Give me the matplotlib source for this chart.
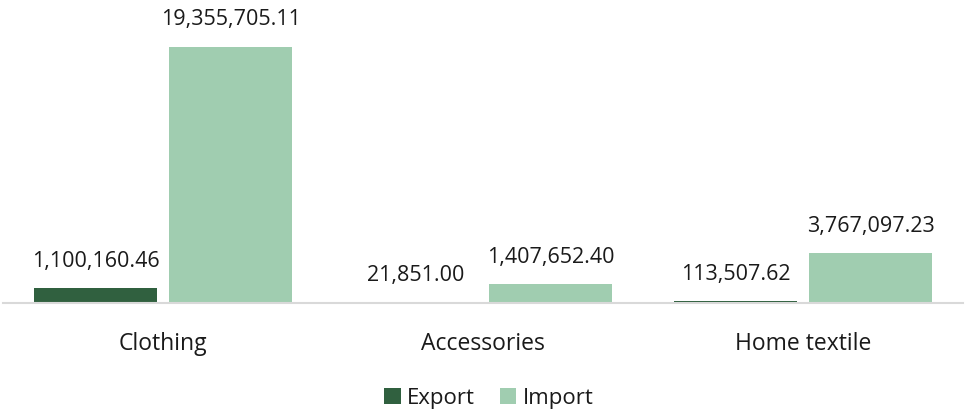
import numpy as np
import matplotlib.pyplot as plt

categories = ['Clothing', 'Accessories', 'Home textile']
export_vals = [1100160.46, 21851.00, 113507.62]
import_vals = [19355705.11, 1407652.40, 3767097.23]
series_names = ['Export', 'Import']

export_color = '#30603F'
import_color = '#A0CDB0'

plt.rcParams['font.family'] = ['Open Sans', 'DejaVu Sans']

fig = plt.figure(figsize=(9.65, 4.15), dpi=100)
ax = fig.add_axes([3 / 965, 1 - 303 / 415, 960 / 965, 291 / 415])

x = np.arange(len(categories))
w = 0.384
off = 0.211
b1 = ax.bar(x - off, export_vals, w, color=export_color, label=series_names[0])
b2 = ax.bar(x + off, import_vals, w, color=import_color, label=series_names[1])

for bars, vals in ((b1, export_vals), (b2, import_vals)):
    for rect, v in zip(bars, vals):
        ax.annotate(f'{v:,.2f}', (rect.get_x() + rect.get_width() / 2, rect.get_height()),
                    xytext=(0, 12), textcoords='offset points',
                    ha='center', va='bottom', fontsize=15.5, color='#1a1a1a')

ax.set_xlim(-0.5, 2.5)
ax.set_ylim(0, 22e6)
ax.set_yticks([])
ax.set_xticks(x)
ax.set_xticklabels(categories, fontsize=16.5, color='#1a1a1a')
ax.tick_params(axis='x', length=0, pad=21)
for s in ['top', 'right', 'left']:
    ax.spines[s].set_visible(False)
ax.spines['bottom'].set_color('#D9D9D9')
ax.spines['bottom'].set_linewidth(1.5)

fig.legend(loc='center', bbox_to_anchor=(489 / 965, 1 - 398 / 415), ncol=2, frameon=False,
           fontsize=16, handlelength=0.75, handleheight=0.75, handletextpad=0.3,
           columnspacing=1.1, labelcolor='#1a1a1a')

fig.savefig('out.png', dpi=100)
